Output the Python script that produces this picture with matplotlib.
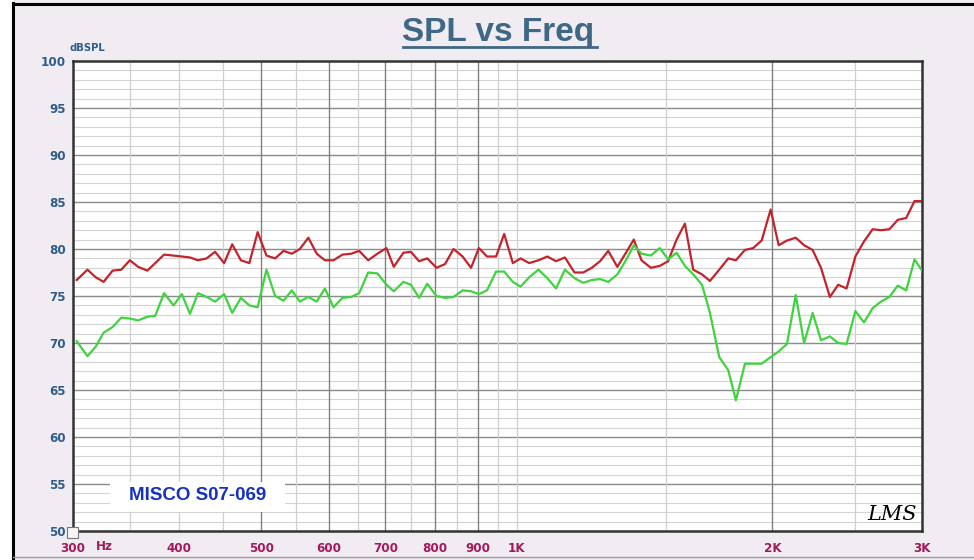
import matplotlib
matplotlib.use("Agg")
import matplotlib.pyplot as plt
from matplotlib import font_manager
from matplotlib.lines import Line2D
from matplotlib.patches import Rectangle

# frequency points (Hz) shared by both traces
freq_hz = [303, 312, 319, 326, 334, 342, 350, 358, 367, 375,
           384, 394, 403, 412, 421, 431, 441, 452, 462, 473,
           484, 495, 507, 519, 531, 543, 555, 568, 581, 594,
           608, 623, 638, 652, 668, 685, 702, 716, 735, 750,
           767, 784, 804, 823, 842, 863, 883, 902, 922, 945,
           966, 989, 1010, 1034, 1060, 1086, 1112, 1139, 1169, 1197,
           1225, 1253, 1281, 1313, 1344, 1373, 1402, 1438, 1473, 1507,
           1542, 1577, 1613, 1652, 1688, 1731, 1774, 1811, 1856, 1898,
           1942, 1990, 2034, 2080, 2130, 2179, 2230, 2281, 2337, 2390,
           2445, 2504, 2563, 2624, 2684, 2746, 2809, 2874, 2940, 3000]

spl_red = [76.7, 77.8, 77.0, 76.5, 77.7, 77.8, 78.8, 78.1, 77.7, 78.5,
           79.4, 79.3, 79.2, 79.1, 78.8, 79.0, 79.7, 78.5, 80.5, 78.8,
           78.5, 81.8, 79.3, 79.0, 79.8, 79.5, 80.0, 81.2, 79.5, 78.8,
           78.8, 79.4, 79.5, 79.8, 78.8, 79.5, 80.1, 78.1, 79.6, 79.7,
           78.7, 79.0, 78.0, 78.4, 80.0, 79.2, 78.0, 80.1, 79.2, 79.2,
           81.6, 78.5, 79.0, 78.5, 78.8, 79.2, 78.7, 79.1, 77.5, 77.5,
           78.0, 78.7, 79.8, 78.1, 79.6, 81.0, 78.8, 78.0, 78.2, 78.7,
           81.0, 82.7, 77.8, 77.3, 76.6, 77.8, 79.0, 78.8, 79.9, 80.1,
           80.9, 84.2, 80.4, 80.9, 81.2, 80.4, 79.9, 78.0, 74.9, 76.2,
           75.8, 79.2, 80.8, 82.1, 82.0, 82.1, 83.1, 83.3, 85.1, 85.1]

spl_green = [70.2, 68.6, 69.6, 71.1, 71.7, 72.7, 72.6, 72.4, 72.8, 72.9,
             75.3, 74.0, 75.2, 73.1, 75.3, 74.9, 74.4, 75.2, 73.2, 74.8,
             74.0, 73.8, 77.8, 75.0, 74.5, 75.6, 74.4, 74.9, 74.4, 75.8,
             73.8, 74.8, 74.9, 75.3, 77.5, 77.4, 76.2, 75.5, 76.5, 76.2,
             74.8, 76.3, 75.0, 74.8, 74.9, 75.6, 75.5, 75.2, 75.6, 77.6,
             77.6, 76.5, 76.0, 77.0, 77.8, 76.9, 75.8, 77.8, 76.9, 76.4,
             76.7, 76.8, 76.5, 77.3, 78.8, 80.4, 79.5, 79.3, 80.1, 78.9,
             79.6, 78.2, 77.3, 76.2, 73.2, 68.5, 67.1, 63.9, 67.8, 67.8,
             67.8, 68.5, 69.1, 69.9, 75.1, 70.0, 73.2, 70.3, 70.7, 70.0,
             69.9, 73.4, 72.2, 73.7, 74.4, 74.9, 76.1, 75.6, 78.9, 77.7]

x_ticks = [300, 400, 500, 600, 700, 800, 900, 1000, 2000, 3000]
x_tick_labels = ["300", "400", "500", "600", "700", "800", "900", "1K", "2K", "3K"]
y_ticks = [50, 55, 60, 65, 70, 75, 80, 85, 90, 95, 100]

TICK_FONT = font_manager.FontProperties(family="DejaVu Sans", stretch="condensed",
                                        weight="bold", size=9.5)
BLUE = "#2f5d8a"
MAGENTA = "#a3195b"

fig = plt.figure(figsize=(9.74, 5.6), dpi=100, facecolor="#f0ecf2")

# outer frame of the screenshot
fig.patches.append(Rectangle((0, 0), 13 / 974, 1, transform=fig.transFigure,
                             facecolor="white", edgecolor="none", zorder=0))
fig.lines.append(Line2D([13 / 974, 13 / 974], [0, 1 - 3 / 560], transform=fig.transFigure,
                        color="black", lw=2.2))
fig.lines.append(Line2D([13 / 974, 1], [1 - 4 / 560, 1 - 4 / 560], transform=fig.transFigure,
                        color="black", lw=2.2))
fig.lines.append(Line2D([13 / 974, 1], [3 / 560, 3 / 560], transform=fig.transFigure,
                        color="#9a9a9a", lw=1.0))

ax = fig.add_axes([73 / 974, 1 - 531 / 560, 849 / 974, 470 / 560])
ax.set_facecolor("white")
ax.set_xscale("log")
ax.set_xlim(300, 3000)
ax.set_ylim(50, 100)

# grid: 1 dB light lines, 5 dB darker lines
for v in range(51, 100):
    ax.axhline(v, color="#d4d4d4", lw=0.8, zorder=1)
for v in y_ticks[1:-1]:
    ax.axhline(v, color="#8c8c8c", lw=1.0, zorder=1)
for f in [350, 400, 450, 550, 650, 750, 850, 950, 1000, 1500, 2500]:
    ax.axvline(f, color="#cfcfcf", lw=0.9, zorder=1)
for f in [500, 600, 700, 800, 900, 2000]:
    ax.axvline(f, color="#808080", lw=1.0, zorder=1)

ax.plot(freq_hz, spl_red, color="#c4232c", lw=1.6, zorder=3)
ax.plot(freq_hz, spl_green, color="#3ed43e", lw=1.6, zorder=3)

for side in ["left", "bottom", "right", "top"]:
    ax.spines[side].set_color("#333333")
    ax.spines[side].set_linewidth(1.8)

ax.xaxis.set_minor_locator(plt.NullLocator())
ax.set_xticks(x_ticks)
ax.set_xticklabels(x_tick_labels)
ax.set_yticks(y_ticks)
ax.set_yticklabels([str(v) for v in y_ticks])
ax.tick_params(axis="both", length=0)
ax.tick_params(axis="x", pad=8, colors=MAGENTA)
ax.tick_params(axis="y", pad=5, colors=BLUE)
for lab in ax.get_xticklabels() + ax.get_yticklabels():
    lab.set_fontproperties(TICK_FONT)

fig.text(96 / 974, 1 - 546 / 560, "Hz", color=MAGENTA, fontproperties=TICK_FONT,
         ha="left", va="center")

fig.text(69 / 974, 1 - 48 / 560, "dBSPL", color=BLUE, fontproperties=TICK_FONT,
         fontsize=8, ha="left", va="center")

# small icon at the origin corner
fig.patches.append(Rectangle((67 / 974, 1 - 538 / 560), 11 / 974, 11 / 560,
                             transform=fig.transFigure, facecolor="#f4f4f4",
                             edgecolor="#777777", lw=0.8, zorder=5))

fig.text(0.511, 1 - 32 / 560, "SPL vs Freq", color="#3e6886", fontsize=24,
         fontweight="bold", family="Liberation Sans", ha="center", va="center")
fig.lines.append(Line2D([403 / 974, 597 / 974], [1 - 47 / 560, 1 - 47 / 560],
                        transform=fig.transFigure, color="#3e6886", lw=2))

# device label box
ax.add_patch(Rectangle((110 / 974, 1 - 512 / 560), 175 / 974, 30 / 560,
                       transform=fig.transFigure, facecolor="white",
                       edgecolor="none", zorder=4))
fig.text(198 / 974, 1 - 496 / 560, "MISCO S07-069", color="#1530c4", fontsize=13.5,
         fontweight="bold", family="Liberation Sans", ha="center", va="center", zorder=6)

fig.text(892 / 974, 1 - 514 / 560, "LMS", color="black", fontsize=15, style="italic",
         family="DejaVu Serif", ha="center", va="center")

fig.savefig("out.png", dpi=100, facecolor=fig.get_facecolor())
